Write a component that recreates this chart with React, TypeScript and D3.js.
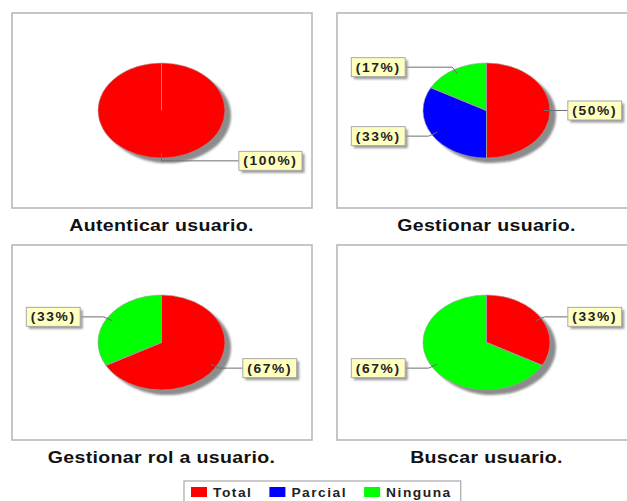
import React, { useRef, useEffect } from "react";
import * as d3 from "d3";

// categories and colours of the slices
const categories = ["Total", "Parcial", "Ninguna"];
const colors = ["#ff0000", "#0000ff", "#00ff00"];

// one pie per use case
const titles = ["Autenticar usuario.", "Gestionar usuario.", "Gestionar rol a usuario.", "Buscar usuario."];
const totalValues = [100, 50, 67, 33];
const parcialValues = [0, 33, 0, 0];
const ningunaValues = [0, 17, 33, 67];

const FONT = "'Liberation Sans', Arial, sans-serif";
const SX = 1.15; // the picture is a bit stretched horizontally

const App = () => {
  const svgRef = useRef<SVGSVGElement>(null);

  useEffect(() => {
    const width = 627;
    const height = 501;
    const svg = d3.select(svgRef.current).attr("width", width).attr("height", height);
    svg.selectAll("*").remove();

    const defs = svg.append("defs");
    defs.append("filter").attr("id", "soft").append("feGaussianBlur").attr("stdDeviation", 1.3);

    const color = d3.scaleOrdinal<string, string>().domain(categories).range(colors);
    const seriesValues = [totalValues, parcialValues, ningunaValues];

    const cols = [12, 337];
    const rows = [13, 245];
    const panelW = 300;
    const panelH = 195;
    const rx = 63.5;
    const ry = 47.5;

    const pie = d3
      .pie<{ cat: string; value: number }>()
      .sort(null)
      .value((d) => d.value);
    const arc = d3.arc<any>().innerRadius(0).outerRadius(rx);

    titles.forEach((title, i) => {
      const x0 = cols[i % 2];
      const y0 = rows[Math.floor(i / 2)];
      const cx = x0 + 149.5;
      const cy = y0 + 97.5;

      const g = svg.append("g");
      g.append("rect")
        .attr("x", x0)
        .attr("y", y0)
        .attr("width", panelW)
        .attr("height", panelH)
        .attr("fill", "#fff")
        .attr("stroke", "#b4b4b4")
        .attr("stroke-width", 1.5);

      // title
      g.append("text")
        .attr("transform", `translate(${cx},${y0 + 218}) scale(${SX},1)`)
        .attr("text-anchor", "middle")
        .style("font-family", FONT)
        .style("font-size", "17px")
        .style("font-weight", "bold")
        .style("letter-spacing", "0.3px")
        .attr("fill", "#111")
        .text(title);

      const data = categories.map((c, k) => ({ cat: c, value: seriesValues[k][i] }));
      const arcs = pie(data).filter((d) => d.value > 0);
      const total = d3.sum(data, (d) => d.value);

      // shadow
      g.append("ellipse")
        .attr("cx", cx + 6)
        .attr("cy", cy + 5)
        .attr("rx", rx)
        .attr("ry", ry)
        .attr("fill", "#8c8c8c")
        .attr("filter", "url(#soft)");

      const pg = g.append("g").attr("transform", `translate(${cx},${cy}) scale(1,${ry / rx})`);
      pg.selectAll("path.slice")
        .data(arcs)
        .enter()
        .append("path")
        .attr("class", "slice")
        .attr("d", arc)
        .attr("fill", (d) => color(d.data.cat))
        .attr("stroke", "#a0a0a0")
        .attr("stroke-width", 0.6)
        .attr("vector-effect", "non-scaling-stroke");
      // slice boundary lines
      pg.selectAll("line.edge")
        .data(arcs)
        .enter()
        .append("line")
        .attr("x1", 0)
        .attr("y1", 0)
        .attr("x2", (d) => rx * Math.sin(d.startAngle))
        .attr("y2", (d) => -rx * Math.cos(d.startAngle))
        .attr("stroke", "#9a9a9a")
        .attr("stroke-width", 1)
        .attr("vector-effect", "non-scaling-stroke");

      // labels with links
      arcs.forEach((d) => {
        const theta = (d.startAngle + d.endAngle) / 2;
        const s = Math.sin(theta);
        const c = -Math.cos(theta);
        const right = s > -1e-6;
        const linkX = cx + rx * 0.9 * s;
        const linkY = cy + ry * 0.9 * c;
        const elbowX = cx + rx * 1.06 * s;
        const elbowY = cy + ry * 1.06 * c;
        const anchorX = right ? cx + rx * 1.06 : cx - rx * 1.06;
        let targetX = right ? anchorX + 14 : anchorX - 14;
        const ly = elbowY;

        const lg = g.append("g");
        const txt = lg
          .append("text")
          .style("font-family", FONT)
          .style("font-size", "12px")
          .style("font-weight", "bold")
          .style("letter-spacing", "1.4px")
          .attr("fill", "#222")
          .text(`(${Math.round((d.value / total) * 100)}%)`);
        const tw = (txt.node() as SVGTextElement).getComputedTextLength() * SX;
        const bw = tw + 9;
        const bh = 19;
        if (right && targetX + bw > x0 + panelW - 10) targetX = x0 + panelW - 10 - bw;
        const bx = right ? targetX : targetX - bw;

        g.insert("polyline", () => lg.node())
          .attr("points", `${linkX},${linkY} ${elbowX},${elbowY} ${anchorX},${elbowY} ${targetX},${ly}`)
          .attr("fill", "none")
          .attr("stroke", "#6e6e6e")
          .attr("stroke-width", 1);

        lg.insert("rect", "text")
          .attr("x", bx + 2.5)
          .attr("y", ly - bh / 2 + 2.5)
          .attr("width", bw)
          .attr("height", bh)
          .attr("fill", "#9a9a9a")
          .attr("filter", "url(#soft)");
        lg.insert("rect", "text")
          .attr("x", bx)
          .attr("y", ly - bh / 2)
          .attr("width", bw)
          .attr("height", bh)
          .attr("fill", "#ffffc0")
          .attr("stroke", "#a8a8a8")
          .attr("stroke-width", 1);
        txt.attr("transform", `translate(${bx + 4.5},${ly + 4.5}) scale(${SX},1)`);
      });
    });

    // legend
    const lgd = svg.append("g");
    const box = lgd.append("rect");
    let lx = 191;
    categories.forEach((cat) => {
      lgd.append("rect")
        .attr("x", lx)
        .attr("y", 487)
        .attr("width", 16)
        .attr("height", 10)
        .attr("fill", color(cat));
      const t = lgd
        .append("text")
        .attr("transform", `translate(${lx + 22},497) scale(${SX},1)`)
        .style("font-family", FONT)
        .style("font-size", "12px")
        .style("font-weight", "bold")
        .style("letter-spacing", "1.3px")
        .attr("fill", "#222")
        .text(cat);
      const w = (t.node() as SVGTextElement).getComputedTextLength() * SX;
      lx = lx + 22 + w + 17;
    });
    box.attr("x", 184)
      .attr("y", 481)
      .attr("width", lx - 17 - 184 + 9)
      .attr("height", 26)
      .attr("fill", "#fff")
      .attr("stroke", "#a8a8a8")
      .attr("stroke-width", 1.2);
  }, []);

  return (
    <div style={{ position: "absolute", left: 0, top: 0 }}>
      <svg ref={svgRef} style={{ display: "block" }}></svg>
    </div>
  );
};

export default App;
